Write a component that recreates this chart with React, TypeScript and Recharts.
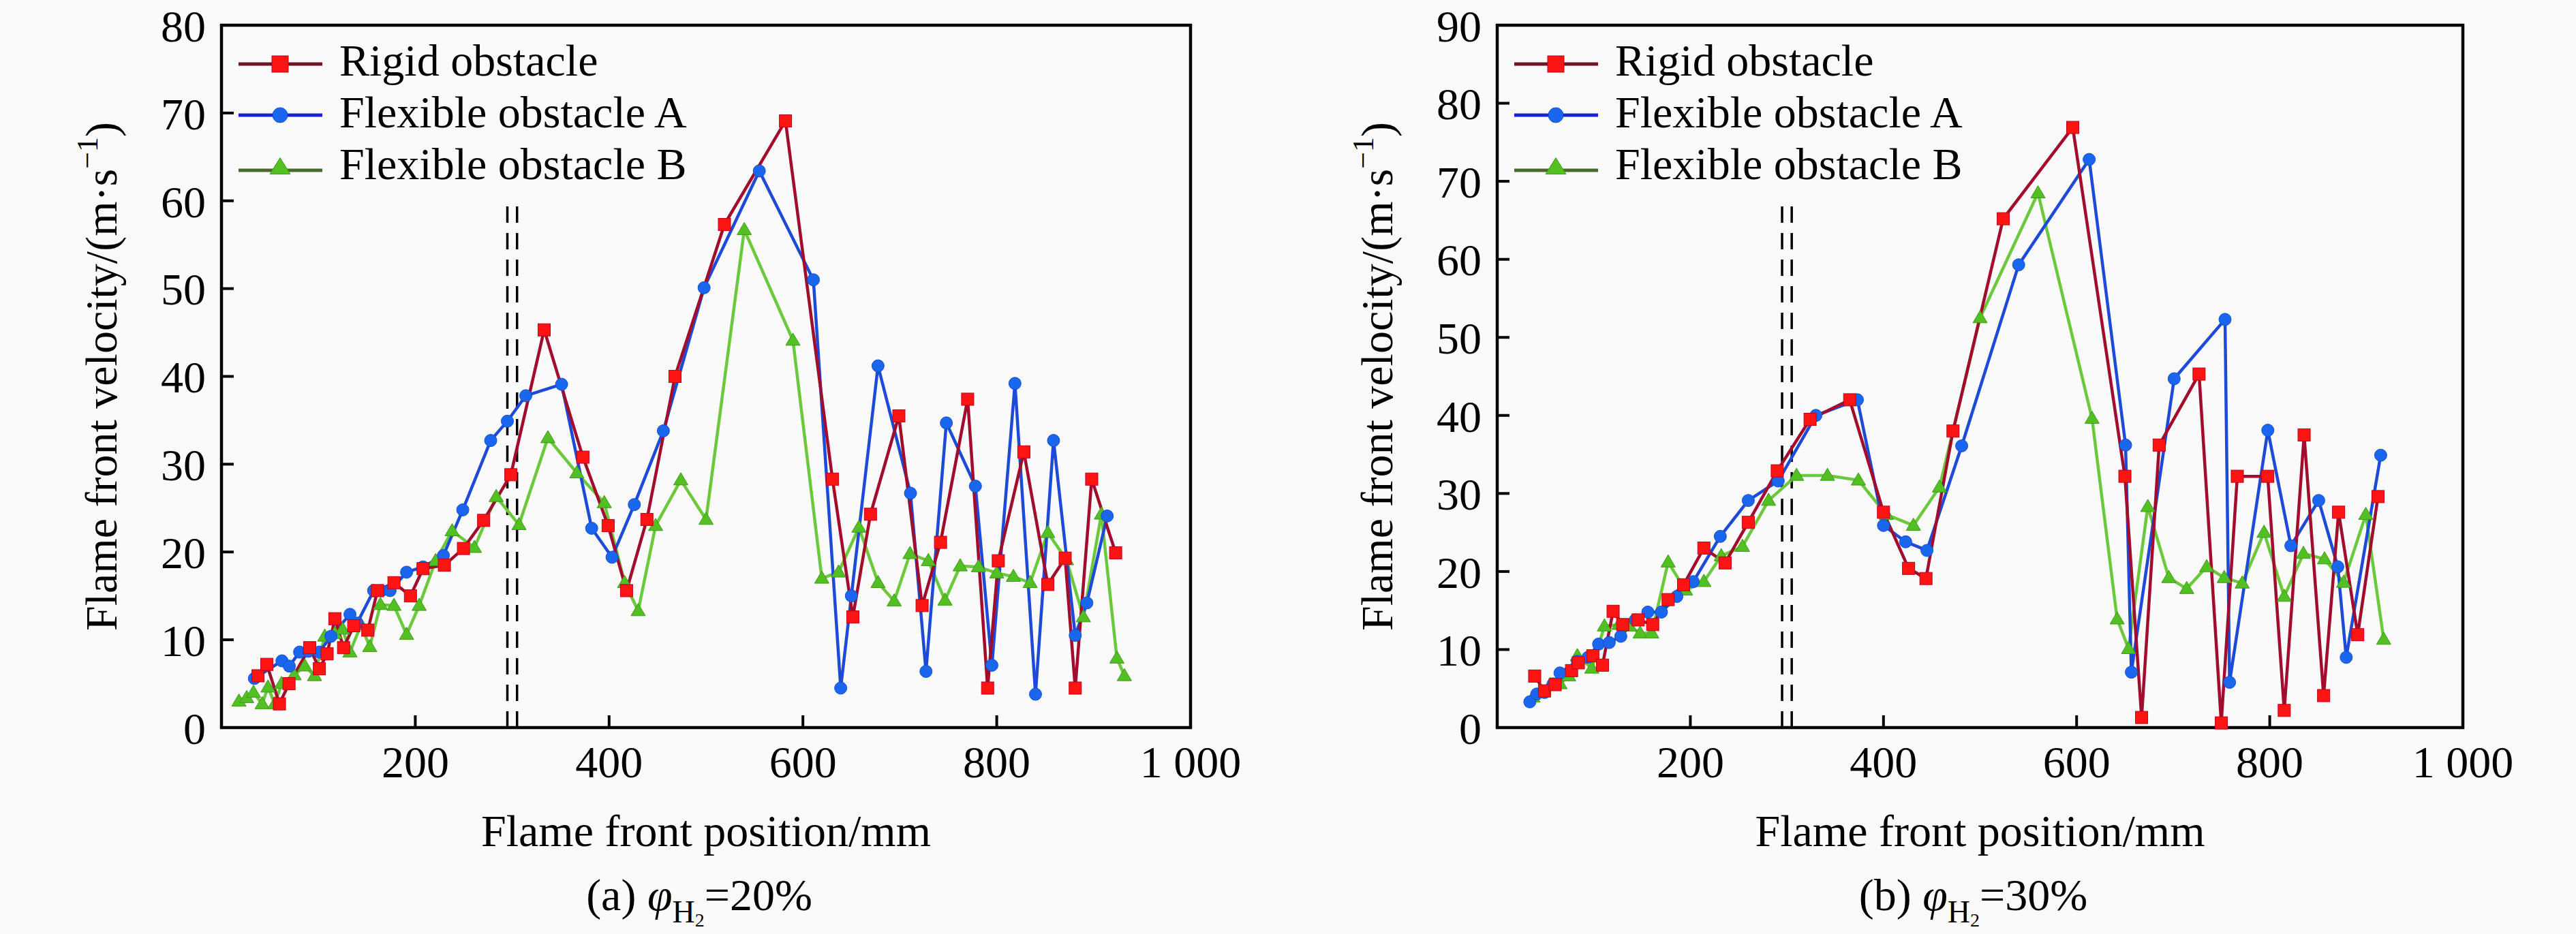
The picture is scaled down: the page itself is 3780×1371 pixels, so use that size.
import React from 'react'
import { LineChart, Line, XAxis, YAxis, ReferenceLine, ReferenceArea, Legend } from 'recharts'

const X_TICKS = [200, 400, 600, 800, 1000]
const Y_TICKS_20 = [0, 10, 20, 30, 40, 50, 60, 70, 80]
const Y_TICKS_30 = [0, 10, 20, 30, 40, 50, 60, 70, 80, 90]
const OBSTACLE_X = [295, 305]
const NAMES = ['Rigid obstacle', 'Flexible obstacle A', 'Flexible obstacle B']

// (a) H2 20 %  -> [flame front position mm, velocity m/s]
const rigid20 = [
  [37.7, 5.9], [46.8, 7.2], [59.8, 2.7], [69.7, 5.0], [91, 9.1], [101, 6.7], [109, 8.4], [117, 12.4],
  [126, 9.1], [136.5, 11.6], [151, 11.1], [161, 15.6], [178, 16.5], [195, 15.0], [208, 18.1], [230, 18.5],
  [249.7, 20.4], [270.5, 23.6], [298.6, 28.8], [333, 45.3], [373, 30.8], [399, 23.0], [418, 15.6], [439, 23.7],
  [468, 40.0], [519, 57.3], [582, 69.1], [630.5, 28.3], [651.5, 12.6], [669.7, 24.3], [699, 35.5], [723, 13.9],
  [742, 21.1], [770, 37.4], [790.6, 4.5], [801.6, 19.0], [828, 31.4], [852.7, 16.3], [870.6, 19.3], [881, 4.5],
  [898, 28.3], [922.7, 19.9],
]
const flexA20 = [
  [34, 5.6], [62.4, 7.6], [70, 7.0], [80.6, 8.6], [89.7, 8.7], [101, 8.6], [113, 10.4], [132.6, 12.9],
  [140, 11.9], [157, 15.6], [165, 15.6], [174, 15.6], [191, 17.7], [208, 18.3], [229, 19.6], [249, 24.8],
  [277.8, 32.7], [295, 34.9], [314, 37.8], [351, 39.1], [382, 22.7], [403, 19.4], [426, 25.4], [456, 33.8],
  [498, 50.1], [555, 63.4], [610.8, 51.0], [639, 4.5], [650, 15.0], [677.5, 41.2], [711, 26.7], [727, 6.4],
  [748, 34.7], [778, 27.5], [795, 7.1], [818.8, 39.2], [840, 3.8], [858.6, 32.7], [881, 10.5], [893, 14.2],
  [914, 24.1],
]
const flexB20 = [
  [18, 3.0], [26, 3.4], [33, 4.0], [42, 2.7], [48, 4.6], [55, 2.7], [62, 5.0], [75, 6.0],
  [86, 7.0], [96, 5.9], [106.6, 10.4], [117, 10.7], [125, 11.2], [132.6, 8.6], [144, 11.7], [153, 9.2],
  [164, 14.0], [178, 13.9], [191, 10.6], [204, 13.9], [221, 19.0], [238, 22.4], [261, 20.5], [283.5, 26.3],
  [307, 23.1], [336.8, 33.0], [366.7, 29.0], [395, 25.6], [416, 16.5], [430, 13.3], [448, 23.0], [474, 28.2],
  [500, 23.7], [539.5, 56.7], [589.7, 44.1], [619.5, 17.0], [636.8, 17.7], [657.8, 22.8], [677.5, 16.5], [694.2, 14.4],
  [710.5, 19.8], [729.4, 19.0], [746.6, 14.5], [762.3, 18.4], [781.2, 18.3], [800, 17.6], [817.2, 17.2], [834.5, 16.5],
  [852.7, 22.2], [872, 19.1], [889.4, 12.6], [908, 24.3], [924, 7.9], [931.7, 5.9],
]

// (b) H2 30 %
const rigid30 = [
  [38.8, 6.6], [49, 4.7], [60, 5.5], [77, 7.3], [84, 8.3], [99, 9.2], [109, 8.0], [120, 14.9],
  [130, 13.2], [146, 13.8], [161, 13.2], [177, 16.4], [193, 18.3], [214, 23.0], [236, 21.1], [260, 26.3],
  [290, 32.9], [324, 39.5], [365, 42.0], [400, 27.6], [426, 20.4], [444, 19.1], [472, 38.0], [524, 65.2],
  [596, 76.9], [650, 32.2], [667.3, 1.3], [685.5, 36.2], [726.8, 45.3], [749.8, 0.6], [766.4, 32.2], [797.9, 32.2],
  [815, 2.2], [835.6, 37.5], [855.8, 4.1], [871.3, 27.6], [891.1, 11.9], [912.1, 29.6],
]
const flexA30 = [
  [33.8, 3.3], [41, 4.3], [49, 4.5], [58, 5.6], [65, 7.0], [83, 8.5], [94, 9.0], [105, 10.7],
  [116, 10.9], [128, 11.7], [143, 13.8], [156, 14.8], [170, 14.8], [186, 16.8], [203, 18.7], [231, 24.5],
  [260, 29.1], [291, 31.6], [330, 40.0], [373, 42.0], [400, 25.9], [423, 23.8], [445, 22.7], [481, 36.1],
  [540, 59.3], [613, 72.8], [650.7, 36.2], [656.7, 7.1], [701, 44.7], [753.7, 52.3], [758.4, 5.8], [798, 38.1],
  [821.9, 23.3], [850.7, 29.1], [870.5, 20.6], [879.2, 9.0], [914.9, 34.9],
]
const flexB30 = [
  [37, 3.9], [45, 4.7], [55, 5.5], [65, 5.6], [74, 6.6], [83, 9.2], [98, 7.6], [111, 13.0],
  [126, 13.2], [137, 13.0], [148, 12.1], [160, 12.1], [177, 21.2], [195, 17.6], [214, 18.7], [232, 22.0],
  [254, 23.2], [281, 29.1], [310, 32.3], [342, 32.3], [374, 31.7], [403, 27.3], [431, 25.9], [458, 30.8],
  [500, 52.5], [560, 68.5], [616, 39.6], [642, 13.9], [653.8, 10.1], [673.7, 28.3], [695.5, 19.2], [714, 17.8],
  [734.7, 20.6], [752.9, 19.2], [771.5, 18.5], [794.1, 25.0], [815, 16.8], [834.9, 22.3], [856.7, 21.6], [876.5, 18.6],
  [899.5, 27.3], [918, 11.3],
]

const FONT = '"Liberation Serif", "Times New Roman", serif'
const FS = 66
const CHART_W = 1850
const CHART_H = 1371
const TOP = 37
const PLOT_H = 1031

const STYLE = {
  rigid: { line: '#a10d2c', fill: '#ff1414', edge: '#c0001a', legendLine: '#6e1424' },
  flexA: { line: '#1d4ad6', fill: '#1a66ee', edge: '#1450d0', legendLine: '#1a22d0' },
  flexB: { line: '#6cc83c', fill: '#52bf22', edge: '#3f9a1a', legendLine: '#4a6a2c' },
}

const toPts = (arr: number[][]) => arr.map(([x, y]) => ({ x, y }))

function Marker({ kind, cx, cy, big }: { kind: string; cx: number; cy: number; big?: boolean }) {
  if (kind === 'rigid') {
    const s = big ? 24 : 18
    return <rect x={cx - s / 2} y={cy - s / 2} width={s} height={s} fill={STYLE.rigid.fill} stroke={STYLE.rigid.edge} strokeWidth={1} />
  }
  if (kind === 'flexA') {
    const r = big ? 11 : 9
    return <circle cx={cx} cy={cy} r={r} fill={STYLE.flexA.fill} stroke={STYLE.flexA.edge} strokeWidth={1} />
  }
  const w = big ? 30 : 21
  const h = big ? 24 : 18
  return (
    <polygon
      points={`${cx},${cy - h * 0.6} ${cx - w / 2},${cy + h * 0.4} ${cx + w / 2},${cy + h * 0.4}`}
      fill={STYLE.flexB.fill}
      stroke={STYLE.flexB.edge}
      strokeWidth={1}
    />
  )
}

const dotFor = (kind: string) => (p: any) => {
  if (p.cx == null || p.cy == null) return <g key={`${kind}-${p.index}`} />
  return (
    <g key={`${kind}-${p.index}`}>
      <Marker kind={kind} cx={p.cx} cy={p.cy} />
    </g>
  )
}

function XTick(p: any) {
  const v = p.payload.value
  const label = v === 1000 ? '1 000' : String(v)
  return (
    <g>
      {v < 1000 && <line x1={p.x} x2={p.x} y1={p.y} y2={p.y - 18} stroke="#000" strokeWidth={4} />}
      <text x={p.x} y={p.y + 73} textAnchor="middle" fontFamily={FONT} fontSize={FS} fill="#000">
        {label}
      </text>
    </g>
  )
}

function YTick(p: any) {
  const v = p.payload.value
  return (
    <g>
      {v > 0 && <line x1={p.x} x2={p.x + 18} y1={p.y} y2={p.y} stroke="#000" strokeWidth={4} />}
      <text x={p.x - 23} y={p.y} dy="0.36em" textAnchor="end" fontFamily={FONT} fontSize={FS} fill="#000">
        {v}
      </text>
    </g>
  )
}

function LegendBox() {
  const rows = [
    { kind: 'rigid', y: 57, ty: 74 },
    { kind: 'flexA', y: 132, ty: 150 },
    { kind: 'flexB', y: 213, ty: 226 },
  ]
  return (
    <svg width={760} height={260} style={{ display: 'block' }}>
      {rows.map((r, i) => (
        <g key={r.kind}>
          <line x1={25} x2={148} y1={r.y} y2={r.y} stroke={(STYLE as any)[r.kind].legendLine} strokeWidth={5} />
          <Marker kind={r.kind} cx={86} cy={r.kind === 'flexB' ? r.y - 4 : r.y} big />
          <text x={173} y={r.ty} fontFamily={FONT} fontSize={FS} fill="#000">
            {NAMES[i]}
          </text>
        </g>
      ))}
    </svg>
  )
}

interface PanelProps {
  left: number
  yAxisW: number
  plotW: number
  yMax: number
  yTicks: number[]
  dashTop: number
  tag: string
  pct: string
  rigid: number[][]
  flexA: number[][]
  flexB: number[][]
}

function Panel({ left, yAxisW, plotW, yMax, yTicks, dashTop, tag, pct, rigid, flexA, flexB }: PanelProps) {
  const rightM = CHART_W - yAxisW - plotW
  const midX = yAxisW + plotW / 2
  const midY = TOP + PLOT_H / 2
  const bottom = TOP + PLOT_H

  const yTitle = () => (
    <text
      transform={`translate(${yAxisW - 154},${midY}) rotate(-90)`}
      textAnchor="middle"
      fontFamily={FONT}
      fontSize={FS}
      fill="#000"
    >
      Flame front velocity/(m·s
      <tspan fontSize={44} dy={-28}>−1</tspan>
      <tspan dy={28}>)</tspan>
    </text>
  )

  const xTitle = () => (
    <g>
      <text x={midX} y={bottom + 174} textAnchor="middle" fontFamily={FONT} fontSize={FS} fill="#000">
        Flame front position/mm
      </text>
      <text x={midX - 10} y={bottom + 268} textAnchor="middle" fontFamily={FONT} fontSize={FS} fill="#000">
        {`(${tag}) `}
        <tspan fontStyle="italic">φ</tspan>
        <tspan fontSize={46} dy={18}>H</tspan>
        <tspan fontSize={28} dy={6}>2</tspan>
        <tspan dy={-24}>{`=${pct}%`}</tspan>
      </text>
    </g>
  )

  return (
    <div style={{ position: 'absolute', left, top: 0, width: CHART_W, height: CHART_H }}>
      <LineChart width={CHART_W} height={CHART_H} margin={{ top: TOP, right: rightM, bottom: 0, left: 0 }} style={{ overflow: 'visible' }}>
        <XAxis
          type="number"
          dataKey="x"
          domain={[0, 1000]}
          ticks={X_TICKS}
          interval={0}
          height={CHART_H - TOP - PLOT_H}
          tickSize={0}
          tickMargin={0}
          tickLine={false}
          axisLine={false}
          tick={(p: any) => <XTick {...p} />}
          label={xTitle}
        />
        <YAxis
          type="number"
          domain={[0, yMax]}
          ticks={yTicks}
          interval={0}
          width={yAxisW}
          tickSize={0}
          tickMargin={0}
          tickLine={false}
          axisLine={false}
          tick={(p: any) => <YTick {...p} />}
          label={yTitle}
        />
        <ReferenceArea x1={0} x2={1000} y1={0} y2={yMax} fill="none" stroke="#000" strokeWidth={4.5} />
        {OBSTACLE_X.map(ox => (
          <ReferenceLine
            key={ox}
            segment={[{ x: ox, y: 0 }, { x: ox, y: dashTop }]}
            stroke="#000"
            strokeWidth={3.5}
            strokeDasharray="24 15"
          />
        ))}
        <Line data={toPts(flexB)} dataKey="y" name={NAMES[2]} type="linear" stroke={STYLE.flexB.line} strokeWidth={4.5}
          dot={dotFor('flexB')} activeDot={false} isAnimationActive={false} />
        <Line data={toPts(flexA)} dataKey="y" name={NAMES[1]} type="linear" stroke={STYLE.flexA.line} strokeWidth={4.5}
          dot={dotFor('flexA')} activeDot={false} isAnimationActive={false} />
        <Line data={toPts(rigid)} dataKey="y" name={NAMES[0]} type="linear" stroke={STYLE.rigid.line} strokeWidth={4.5}
          dot={dotFor('rigid')} activeDot={false} isAnimationActive={false} />
        <Legend
          layout="vertical"
          align="center"
          verticalAlign="middle"
          wrapperStyle={{ left: yAxisW, top: TOP, width: 760, height: 260 }}
          content={() => <LegendBox />}
        />
      </LineChart>
    </div>
  )
}

export default function App() {
  return (
    <div style={{ position: 'relative', width: 3780, height: 1371, background: '#fafafa', overflow: 'hidden' }}>
      <style>{'body{margin:0}'}</style>
      <Panel left={0} yAxisW={325} plotW={1422} yMax={80} yTicks={Y_TICKS_20} dashTop={60} tag="a" pct="20"
        rigid={rigid20} flexA={flexA20} flexB={flexB20} />
      <Panel left={1870} yAxisW={327} plotW={1417} yMax={90} yTicks={Y_TICKS_30} dashTop={67.5} tag="b" pct="30"
        rigid={rigid30} flexA={flexA30} flexB={flexB30} />
    </div>
  )
}
